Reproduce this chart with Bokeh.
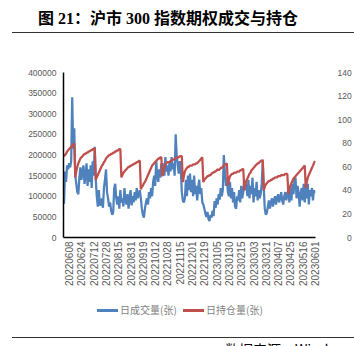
from bokeh.plotting import figure
from bokeh.models import Range1d, LinearAxis, FixedTicker, BasicTickFormatter, Div
from bokeh.layouts import column
from bokeh.embed import file_html
from bokeh.resources import INLINE
import math

# ---------------- data ----------------
tick_pos = [5, 17, 29, 41, 53, 65, 77, 89, 101, 113, 125, 137, 149, 161, 173, 185, 197, 209, 221, 233, 245]
tick_labels = ["20220608", "20220624", "20220712", "20220728", "20220815", "20220831", "20220919",
               "20221012", "20221028", "20221115", "20221201", "20221219", "20230105", "20230130",
               "20230215", "20230303", "20230321", "20230407", "20230425", "20230516", "20230601"]

# daily volume (contracts), left axis
volume = [
    82000, 160000, 135000, 175000, 165000, 180000, 170000, 185000, 340000, 215000,
    265000, 150000, 130000, 110000, 105000, 145000, 170000, 140000, 160000, 175000,
    130000, 150000, 180000, 125000, 165000, 135000, 175000, 120000, 185000, 150000,
    220000, 140000, 100000, 75000, 115000, 80000, 78000, 95000, 72000, 120000,
    140000, 165000, 110000, 95000, 75000, 85000, 65000, 55000, 60000, 120000,
    130000, 95000, 80000, 100000, 70000, 115000, 85000, 95000, 75000, 120000,
    90000, 80000, 105000, 70000, 95000, 115000, 78000, 100000, 85000, 110000,
    90000, 120000, 95000, 105000, 115000, 95000, 70000, 55000, 48000, 70000,
    85000, 95000, 80000, 110000, 95000, 120000, 100000, 135000, 150000, 125000,
    185000, 150000, 135000, 165000, 145000, 180000, 150000, 180000, 150000, 195000,
    160000, 175000, 150000, 185000, 160000, 195000, 165000, 180000, 150000, 250000,
    200000, 175000, 155000, 185000, 165000, 110000, 90000, 85000, 95000, 140000,
    100000, 150000, 115000, 155000, 110000, 140000, 100000, 150000, 105000, 125000,
    90000, 120000, 140000, 105000, 120000, 85000, 80000, 70000, 58000, 50000,
    62000, 45000, 40000, 55000, 48000, 65000, 52000, 88000, 72000, 95000,
    80000, 105000, 92000, 120000, 100000, 115000, 200000, 160000, 125000, 145000,
    110000, 100000, 135000, 95000, 120000, 85000, 110000, 75000, 70000, 100000,
    90000, 115000, 85000, 125000, 95000, 110000, 140000, 115000, 130000, 100000,
    140000, 95000, 125000, 105000, 145000, 85000, 120000, 100000, 135000, 90000,
    115000, 95000, 105000, 130000, 185000, 120000, 70000, 55000, 60000, 75000,
    90000, 70000, 85000, 95000, 75000, 90000, 100000, 80000, 95000, 105000,
    85000, 95000, 110000, 90000, 80000, 100000, 110000, 90000, 105000, 115000,
    85000, 120000, 90000, 130000, 105000, 140000, 145000, 95000, 125000, 110000,
    75000, 105000, 120000, 90000, 130000, 85000, 120000, 95000, 130000, 80000,
    115000, 100000, 120000, 90000, 115000, 108000,
]

# daily open interest, right axis
open_interest = [
    69, 70, 71, 73, 74, 75, 76, 77, 78, 79,
    80, 51, 56, 60, 63, 65, 67, 68, 69, 70,
    71, 71, 72, 72, 73, 73, 74, 74, 75, 75,
    76, 49, 51, 53, 55, 57, 59, 61, 62, 64,
    65, 67, 68, 69, 70, 70, 71, 71, 72, 72,
    73, 73, 74, 74, 75, 75, 51, 53, 55, 56,
    57, 58, 59, 60, 60, 61, 61, 62, 62, 63,
    63, 64, 64, 65, 65, 41, 43, 44, 46, 47,
    49, 51, 53, 55, 57, 59, 61, 62, 63, 64,
    65, 66, 67, 67, 68, 68, 52, 56, 60, 63,
    63, 64, 64, 64, 65, 65, 66, 66, 67, 67,
    68, 68, 68, 69, 69, 69, 47, 52, 56, 58,
    59, 60, 60, 61, 61, 61, 62, 62, 62, 63,
    63, 64, 65, 66, 67, 68, 47, 49, 50, 51,
    52, 52, 53, 53, 54, 55, 55, 56, 56, 57,
    58, 57, 58, 59, 59, 60, 61, 62, 62, 63,
    44, 49, 52, 53, 54, 54, 55, 55, 55, 56,
    56, 56, 57, 57, 58, 58, 40, 45, 48, 50,
    52, 54, 55, 57, 58, 59, 60, 61, 62, 63,
    63, 64, 65, 65, 66, 40, 43, 45, 46, 47,
    48, 48, 49, 49, 50, 50, 51, 51, 51, 52,
    52, 52, 53, 53, 53, 53, 54, 54, 54, 37,
    41, 44, 46, 48, 50, 51, 52, 53, 54, 55,
    56, 57, 58, 59, 60, 61, 42, 47, 51, 53,
    55, 57, 59, 61, 63, 65,
]

left_ticks = [0, 50000, 100000, 150000, 200000, 250000, 300000, 350000, 400000]
right_ticks = [0, 20, 40, 60, 80, 100, 120, 140]
series_names = ["日成交量(张)", "日持仓量(张)"]
series_colors = ["#4F81BD", "#C0504D"]

x = list(range(len(volume)))

# ---------------- figure ----------------
p = figure(width=354, height=266, output_backend="svg", toolbar_location=None,
           x_range=Range1d(-0.5, len(volume) - 0.5), y_range=Range1d(0, 400000),
           min_border_left=63, min_border_right=34, min_border_top=38, min_border_bottom=63)
p.extra_y_ranges = {"right": Range1d(0, 140)}
p.outline_line_color = None
p.xgrid.visible = False
p.ygrid.visible = False
p.background_fill_color = "white"
p.border_fill_color = "white"

gray = "#595959"
ax = p.xaxis[0]
ax.ticker = FixedTicker(ticks=tick_pos)
ax.major_label_overrides = {t: l for t, l in zip(tick_pos, tick_labels)}
ax.major_label_orientation = math.pi / 2
ax.major_label_text_font = "Liberation Sans"
ax.major_label_text_font_size = "10px"
ax.major_label_text_color = gray
ax.major_tick_out = 0
ax.major_tick_in = 0
ax.minor_tick_out = 0
ax.minor_tick_in = 0
ax.major_label_standoff = 4
ax.axis_line_color = "black"
ax.axis_line_width = 1.5

ay = p.yaxis[0]
ay.ticker = FixedTicker(ticks=left_ticks)
ay.formatter = BasicTickFormatter(use_scientific=False)
ay.major_label_text_font = "Liberation Sans"
ay.major_label_text_font_size = "8.5px"
ay.major_label_text_color = gray
ay.major_tick_out = 0
ay.major_tick_in = 0
ay.minor_tick_out = 0
ay.minor_tick_in = 0
ay.major_label_standoff = 7
ay.axis_line_color = "black"
ay.axis_line_width = 1.5

# secondary axis (its labels run past the window edge, as in the reference)
fs = "\u2007"
ar = LinearAxis(y_range_name="right", ticker=FixedTicker(ticks=right_ticks))
ar.major_label_overrides = {t: fs * (3 - len(str(t))) + str(t) for t in right_ticks}
ar.major_label_text_font = "Liberation Sans"
ar.major_label_text_font_size = "8.5px"
ar.major_label_text_color = gray
ar.major_tick_out = 0
ar.major_tick_in = 0
ar.minor_tick_out = 0
ar.minor_tick_in = 0
ar.major_label_standoff = 22
ar.axis_line_color = None
p.add_layout(ar, "right")

p.line(x, volume, line_color=series_colors[0], line_width=2.25)
p.line(x, open_interest, line_color=series_colors[1], line_width=2.25, y_range_name="right")

title = Div(text='<div style="position:relative;width:354px;height:34px;">'
                 '<div style="position:absolute;left:38px;top:10px;font-family:\'Liberation Serif\',\'Noto Sans CJK SC\';'
                 'font-weight:bold;font-size:16px;line-height:18px;color:#000;white-space:nowrap;">'
                 '图 21：沪市 300 指数期权成交与持仓</div>'
                 '<div style="position:absolute;left:12px;top:32px;width:342px;height:0;border-top:1.5px solid #333;"></div>'
                 '</div>', width=354, height=34, margin=(0, 0, 0, 0))

legend_html = '<div style="position:relative;width:354px;height:34px;">'
for (lx, name, col) in zip([97, 183], series_names, series_colors):
    legend_html += ('<div style="position:absolute;left:%dpx;top:9px;width:21px;height:3px;background:%s;"></div>'
                    % (lx, col))
    legend_html += ('<div style="position:absolute;left:%dpx;top:3px;font-family:\'Noto Sans CJK SC\';'
                    'font-size:10px;line-height:14px;color:#7f7f7f;white-space:nowrap;">%s</div>'
                    % (lx + 23, name))
legend_html += '</div>'
legend_div = Div(text=legend_html, width=354, height=34, margin=(0, 0, 0, 0))

foot = Div(text='<div style="position:relative;width:354px;height:12px;overflow:hidden;">'
                '<div style="position:absolute;left:12px;top:3px;width:342px;height:0;border-top:1.5px solid #333;"></div>'
                '<div style="position:absolute;left:225px;top:7px;font-family:\'Noto Sans CJK SC\';font-size:14px;'
                'line-height:16px;color:#000;white-space:nowrap;">数据来源：Wind</div>'
                '</div>', width=354, height=12, margin=(0, 0, 0, 0))

layout = column(title, p, legend_div, foot, spacing=0, margin=(0, 0, 0, 0))

open("out.html", "w").write(file_html(layout, INLINE))
